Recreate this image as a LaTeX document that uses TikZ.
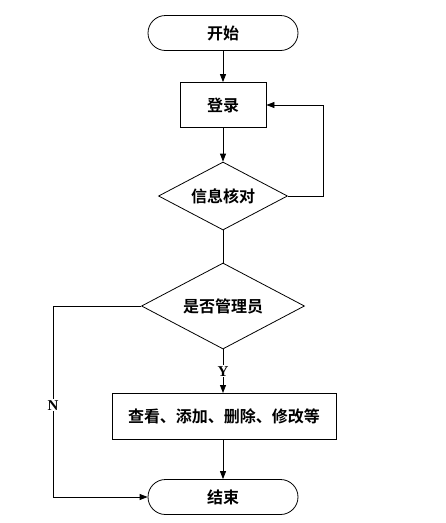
\documentclass[tikz,border=0pt]{standalone}
\usepackage{fontspec}
\setmainfont{Liberation Serif}
\newfontfamily\cjk{Noto Sans CJK SC Bold}
\usetikzlibrary{shapes.geometric,arrows.meta}
\begin{document}
\begin{tikzpicture}[x=1pt,y=-1pt,
  line width=0.8pt,
  every node/.style={font=\cjk\fontsize{16}{18}\selectfont},
  term/.style={draw,rounded corners=17.5pt,minimum width=150pt,minimum height=35pt,inner sep=0pt},
  proc/.style={draw,minimum height=45pt,inner sep=0pt},
  dec/.style={draw,diamond,inner sep=0pt,aspect=1.9},
  arr/.style={-{Triangle[length=8pt,width=6pt]}},
  lbl/.style={font=\bfseries\fontsize{15}{17}\selectfont}]
\useasboundingbox (0,0) rectangle (446,523);
\node[term] (start) at (223,33) {开始};
\node[proc,minimum width=86pt] (login) at (223,105) {登录};
\node[dec,minimum width=129pt,minimum height=68pt] (check) at (223,196) {信息核对};
\node[dec,minimum width=163pt,minimum height=86pt] (admin) at (223,306) {是否管理员};
\node[proc,minimum width=224pt,minimum height=46pt] (ops) at (224,416) {查看、添加、删除、修改等};
\node[term] (end) at (223,497) {结束};
\coordinate (lr) at (323,196);
\coordinate (ll) at (53,306);
\coordinate (lb) at (53,497);
\draw[arr] (start) -- (login);
\draw[arr] (login) -- (check);
\draw[arr] (check.east) -- (lr) |- (login.east);
\draw (check.south) -- (admin.north);
\draw[arr] (admin.south) -- node[lbl,fill=white,inner sep=1pt,pos=0.5] {Y} (223,393);
\draw[arr] (ops.south -| end.north) -- (end.north);
\draw[arr] (admin.west) -- (ll) -- node[lbl,fill=white,inner sep=1pt,pos=0.52] {N} (lb) -- (end.west);
\end{tikzpicture}
\end{document}
